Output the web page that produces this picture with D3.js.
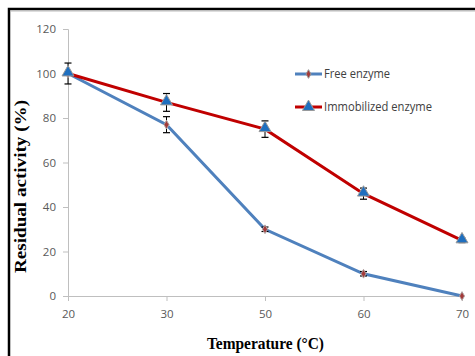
<!DOCTYPE html>
<html>
<head>
<meta charset="utf-8">
<script src="https://cdn.jsdelivr.net/npm/d3@7"></script>
<style>
  body { margin: 0; background: #fff; }
  svg { display: block; }
</style>
</head>
<body>
<div id="chart-area"></div>
<script>
// temperatures (category axis) and residual activity values
let temps = ["20", "30", "50", "60", "70"];
let freeVals = [100, 77, 30, 10, 0];
let freeErr = [0, 3.6, 1, 1, 0.5];
let immoVals = [100, 87, 75, 46, 25];
let immoErr = [4.7, 4, 3.7, 2.5, 1];
let yTicks = [0, 20, 40, 60, 80, 100, 120];

let margin = {top: 29, right: 13, bottom: 60, left: 68},
    width = 475 - margin.left - margin.right,
    height = 356 - margin.top - margin.bottom;

let svgRoot = d3.select("#chart-area").append("svg")
    .attr("width", 475)
    .attr("height", 356);

// outer frame (only top and left visible, cropped)
svgRoot.append("rect")
    .attr("x", 9).attr("y", 9)
    .attr("width", 480).attr("height", 360)
    .attr("fill", "none")
    .attr("stroke", "#000")
    .attr("stroke-width", 2.5);
svgRoot.append("line")
    .attr("x1", 10).attr("x2", 475).attr("y1", 11).attr("y2", 11)
    .attr("stroke", "#bbb").attr("stroke-width", 1);

let svg = svgRoot.append("g")
    .attr("transform", "translate(" + margin.left + "," + margin.top + ")");

let x = d3.scalePoint()
    .domain(temps)
    .range([0, width]);

let y = d3.scaleLinear()
    .domain([0, 120])
    .range([height, 0]);

let xAxis = d3.axisBottom(x).tickSize(5).tickPadding(9);
let yAxis = d3.axisLeft(y).tickValues(yTicks).tickSize(5).tickPadding(7);

let xAxisGroup = svg.append("g")
    .attr("class", "x-axis axis")
    .attr("transform", "translate(0," + height + ")")
    .call(xAxis);

let yAxisGroup = svg.append("g")
    .attr("class", "y-axis axis")
    .call(yAxis);

svg.selectAll(".axis path, .axis line")
    .attr("stroke", "#bfbfbf");
svg.selectAll(".axis text")
    .attr("fill", "#595959")
    .style("font-family", "'Open Sans', sans-serif")
    .style("font-size", "11.5px");

let line = d3.line()
    .x(function(d, i){ return x(temps[i]); })
    .y(function(d){ return y(d); });

// series lines
svg.append("path")
    .datum(freeVals)
    .attr("fill", "none")
    .attr("stroke", "#4f81bd")
    .attr("stroke-width", 3)
    .attr("d", line);

svg.append("path")
    .datum(immoVals)
    .attr("fill", "none")
    .attr("stroke", "#c00000")
    .attr("stroke-width", 3)
    .attr("d", line);

// error bars
function drawErrors(vals, errs){
    let g = svg.append("g");
    vals.forEach(function(v, i){
        let e = errs[i];
        if (e < 0.8) return;
        let cx = x(temps[i]);
        g.append("line")
            .attr("x1", cx).attr("x2", cx)
            .attr("y1", y(v + e)).attr("y2", y(v - e))
            .attr("stroke", "#000").attr("stroke-width", 1);
        [v + e, v - e].forEach(function(c){
            g.append("line")
                .attr("x1", cx - 3.5).attr("x2", cx + 3.5)
                .attr("y1", y(c)).attr("y2", y(c))
                .attr("stroke", "#000").attr("stroke-width", 1.2);
        });
    });
}
drawErrors(freeVals, freeErr);
drawErrors(immoVals, immoErr);

// markers
let diamond = d3.symbol().type(d3.symbolDiamond).size(22);
let triangle = d3.symbol().type(d3.symbolTriangle).size(62);

svg.selectAll(".free-pt")
    .data(freeVals)
    .enter()
    .append("path")
    .attr("class", "free-pt")
    .attr("transform", function(d, i){ return "translate(" + x(temps[i]) + "," + y(d) + ")"; })
    .attr("d", diamond)
    .attr("fill", "#a33a3a")
    .attr("stroke", "#b0a0a0")
    .attr("stroke-width", 1);

svg.selectAll(".immo-pt")
    .data(immoVals)
    .enter()
    .append("path")
    .attr("class", "immo-pt")
    .attr("transform", function(d, i){ return "translate(" + x(temps[i]) + "," + (y(d) - 1) + ")"; })
    .attr("d", triangle)
    .attr("fill", "#1f6fbf")
    .attr("stroke", "#999")
    .attr("stroke-width", 1);

// legend
let legend = svgRoot.append("g");
let legendItems = [
    {name: "Free enzyme", color: "#4f81bd", sym: diamond, fill: "#a33a3a", y: 74, w: 66},
    {name: "Immobilized enzyme", color: "#c00000", sym: triangle, fill: "#1f6fbf", y: 107, w: 108}
];
legendItems.forEach(function(d){
    legend.append("line")
        .attr("x1", 295).attr("x2", 322)
        .attr("y1", d.y).attr("y2", d.y)
        .attr("stroke", d.color).attr("stroke-width", 3);
    legend.append("path")
        .attr("transform", "translate(308.5," + d.y + ")")
        .attr("d", d.sym)
        .attr("fill", d.fill)
        .attr("stroke", "#999");
    legend.append("text")
        .attr("x", 324).attr("y", d.y + 4)
        .attr("fill", "#404040")
        .attr("textLength", d.w)
        .attr("lengthAdjust", "spacingAndGlyphs")
        .style("font-family", "'Open Sans', sans-serif")
        .style("font-size", "12px")
        .text(d.name);
});

// axis titles
svgRoot.append("text")
    .attr("x", 207).attr("y", 349)
    .attr("textLength", 117)
    .attr("lengthAdjust", "spacingAndGlyphs")
    .style("font-family", "'Liberation Serif', serif")
    .style("font-weight", "bold")
    .style("font-size", "16px")
    .text("Temperature (°C)");

svgRoot.append("text")
    .attr("transform", "translate(26,273) rotate(-90)")
    .attr("textLength", 173)
    .attr("lengthAdjust", "spacingAndGlyphs")
    .style("font-family", "'Liberation Serif', serif")
    .style("font-weight", "bold")
    .style("font-size", "16px")
    .text("Residual activity (%)");
</script>
</body>
</html>
